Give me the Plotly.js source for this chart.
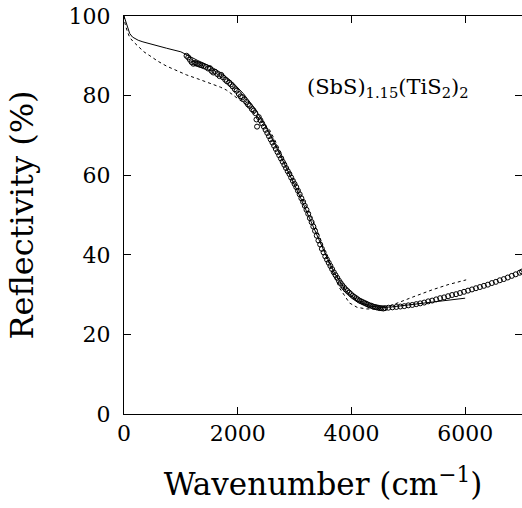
<!DOCTYPE html>
<html>
<head>
<meta charset="utf-8">
<script src="https://cdn.plot.ly/plotly-3.0.1.min.js"></script>
<style>html,body{margin:0;padding:0;background:#fff;}#plot{width:522px;height:508px;}</style>
</head>
<body>
<div id="plot"></div>
<script>
// Measured reflectivity (open circles)
const dataX = [1100,1130,1160,1190,1220,1250,1280,1310,1340,1370,1400,1440,1480,1510,1540,1570,1600,1640,1680,1710,1740,1780,1810,1850,1880,1910,1950,1980,2020,2050,2080,2110,2150,2180,2210,2250,2280,2310,2330,2340,2370,2400,2430,2460,2490,2520,2550,2580,2610,2640,2670,2700,2730,2760,2790,2820,2850,2880,2910,2940,2970,3000,3030,3060,3090,3120,3150,3180,3210,3240,3270,3300,3330,3360,3390,3420,3450,3480,3510,3540,3570,3600,3630,3660,3690,3720,3750,3780,3810,3840,3870,3900,3930,3960,3990,4020,4050,4080,4110,4140,4170,4200,4230,4260,4290,4320,4350,4380,4410,4440,4470,4500,4530,4560,4590,4650,4720,4790,4860,4930,5000,5070,5140,5210,5280,5350,5420,5490,5560,5630,5700,5770,5840,5910,5980,6050,6120,6190,6260,6330,6400,6470,6540,6610,6680,6750,6820,6890,6960,7000];
const dataR = [90.0,89.6,89.0,88.4,88.0,88.2,88.0,87.9,87.7,87.6,87.4,87.2,86.8,86.9,86.2,85.8,86.0,85.4,84.9,85.2,84.6,84.0,83.6,83.2,82.8,82.3,81.6,81.2,80.4,79.8,79.6,79.0,78.4,77.8,77.4,76.6,76.2,75.6,74.0,72.2,74.6,73.8,73.0,72.2,71.4,70.6,69.8,69.0,68.2,67.4,66.6,65.8,65.0,64.2,63.4,62.6,61.8,61.0,60.3,59.4,58.6,57.8,57.0,56.1,55.2,54.2,53.3,52.3,51.3,50.3,49.2,48.2,47.1,46.0,44.8,43.6,42.6,41.5,40.6,39.6,38.8,38.0,37.2,36.4,35.6,34.9,34.2,33.5,32.9,32.3,31.8,31.3,30.9,30.5,30.1,29.7,29.4,29.1,28.8,28.5,28.3,28.1,27.9,27.7,27.5,27.3,27.2,27.0,26.9,26.8,26.7,26.6,26.6,26.5,26.6,26.7,26.8,26.9,27.0,27.1,27.3,27.4,27.6,27.8,28.0,28.3,28.5,28.8,29.1,29.3,29.6,29.9,30.1,30.4,30.7,31.0,31.3,31.6,31.9,32.2,32.5,32.9,33.2,33.6,33.9,34.3,34.7,35.1,35.5,35.8];

// Fit 1 (solid line)
const fitSolidX = [0,30,60,100,150,250,333,500,750,1000,1100,1300,1500,1700,1900,2100,2300,2500,2700,2900,3100,3300,3500,3700,3900,4100,4300,4500,4700,5000,5300,5600,6000];
const fitSolidR = [100,98.5,97.0,95.6,94.7,93.9,93.5,92.8,91.9,91.0,90.2,88.8,87.5,85.8,83.5,80.5,76.8,72.0,66.5,60.5,54.5,48.0,41.5,35.5,31.0,28.4,27.2,26.8,26.9,27.4,27.9,28.4,29.1];

// Fit 2 (dashed line)
const fitDashX = [0,20,50,100,160,228,350,456,600,750,982,1100,1300,1509,1700,1800,2035,2158,2270,2400,2560,2700,2912,3100,3210,3400,3649,3789,3965,4100,4263,4491,4650,4842,5100,5421,5700,6018];
const fitDashR = [100,98.0,96.5,94.6,93.6,92.6,91.0,90.0,88.6,87.4,85.9,85.2,84.2,83.2,82.1,81.4,78.9,77.6,75.9,73.8,71.4,67.5,61.3,55.5,52.0,46.0,36.2,31.7,27.9,26.8,26.4,26.4,27.0,28.1,29.5,31.2,32.5,33.7];

const xTicks = [0,2000,4000,6000];
const yTicks = [0,20,40,60,80,100];
const label = '(SbS)<sub>1.15</sub>(TiS<sub>2</sub>)<sub>2</sub>';

const FONT = 'DejaVu Serif, Liberation Serif, serif';

const traces = [
  {x: fitSolidX, y: fitSolidR, type: 'scatter', mode: 'lines', line: {color: '#000', width: 1}, hoverinfo: 'skip'},
  {x: fitDashX, y: fitDashR, type: 'scatter', mode: 'lines', line: {color: '#000', width: 1, dash: '3px,3px'}, hoverinfo: 'skip'},
  {x: dataX, y: dataR, type: 'scatter', mode: 'markers', marker: {symbol: 'circle-open', size: 5, color: '#000', line: {width: 1, color: '#000'}}}
];

const axisCommon = {
  showline: true, linecolor: '#000', linewidth: 1, mirror: 'ticks',
  ticks: 'inside', ticklen: 7, tickcolor: '#000', tickwidth: 1,
  showgrid: false, zeroline: false,
  tickfont: {family: FONT, size: 22, color: '#000'}
};

const layout = {
  width: 522, height: 508,
  margin: {l: 124, r: 0, t: 16, b: 94},
  paper_bgcolor: '#fff', plot_bgcolor: '#fff',
  showlegend: false,
  xaxis: Object.assign({}, axisCommon, {
    range: [0, 7000], tickvals: xTicks, ticktext: xTicks.map(String),
    ticklabelstandoff: 0,
    title: {text: 'Wavenumber (cm<sup>\u22121</sup>)', font: {family: FONT, size: 31, color: '#000'}, standoff: 27}
  }),
  yaxis: Object.assign({}, axisCommon, {
    range: [0, 100], tickvals: yTicks, ticktext: yTicks.map(String),
    ticklabelstandoff: 8,
    title: {text: 'Reflectivity (%)', font: {family: FONT, size: 32, color: '#000'}, standoff: 25}
  }),
  annotations: [{
    x: 3180, y: 82, xref: 'x', yref: 'y', xanchor: 'left', yanchor: 'middle',
    text: label, showarrow: false,
    font: {family: FONT, size: 21, color: '#000'}
  }]
};

Plotly.newPlot('plot', traces, layout, {staticPlot: true, displayModeBar: false});
</script>
</body>
</html>
